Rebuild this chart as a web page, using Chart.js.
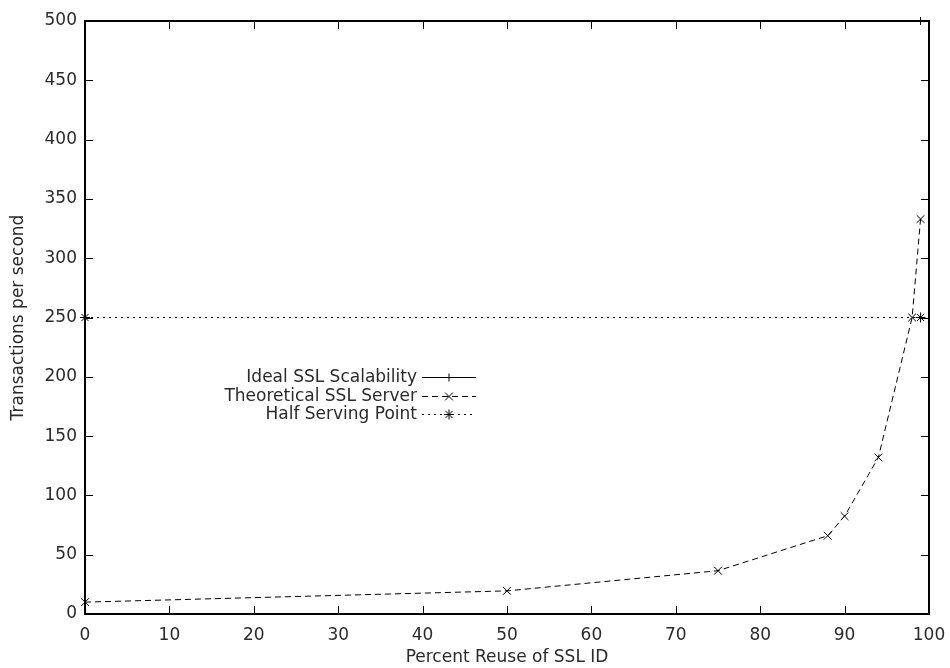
<!DOCTYPE html>
<html>
<head>
<meta charset="utf-8">
<script src="https://cdn.jsdelivr.net/npm/chart.js@4/dist/chart.umd.min.js"></script>
<style>
  html, body { margin: 0; padding: 0; background: #fff; }
  #wrap { width: 950px; height: 668px; }
</style>
</head>
<body>
<div id="wrap"><canvas id="chart"></canvas></div>
<script>
// values
const idealX = [99];
const idealY = [500];
const theoryX = [0, 50, 75, 88, 90, 94, 98, 99];
const theoryY = [10, 19.5, 36.5, 66, 82.5, 132, 250, 333];
const halfX = [0, 99];
const halfY = [250, 250];
const legendNames = ['Ideal SSL Scalability', 'Theoretical SSL Server', 'Half Serving Point'];

const FONT = "'DejaVu Sans', sans-serif";
const SIZE = 17;
const INK = '#2a2a2a';

function toPoints(xs, ys) {
  return xs.map((x, i) => ({ x: x, y: ys[i] }));
}

// gnuplot style frame: border plus inward ticks on all four sides
const framePlugin = {
  id: 'frame',
  afterDatasetsDraw(chart) {
    const { ctx, chartArea: a, scales } = chart;
    const len = 8;
    ctx.save();
    ctx.strokeStyle = '#000';
    ctx.lineWidth = 1;
    ctx.beginPath();
    scales.x.ticks.forEach(t => {
      const px = Math.round(scales.x.getPixelForValue(t.value)) + 0.5;
      ctx.moveTo(px, a.bottom); ctx.lineTo(px, a.bottom - len);
      ctx.moveTo(px, a.top); ctx.lineTo(px, a.top + len);
    });
    scales.y.ticks.forEach(t => {
      const py = Math.round(scales.y.getPixelForValue(t.value)) + 0.5;
      ctx.moveTo(a.left, py); ctx.lineTo(a.left + len, py);
      ctx.moveTo(a.right, py); ctx.lineTo(a.right - len, py);
    });
    ctx.stroke();
    ctx.lineWidth = 2;
    ctx.strokeRect(a.left, a.top, a.right - a.left, a.bottom - a.top);
    ctx.restore();
  }
};

// key drawn inside the plot, text right-aligned with a line sample after it
const keyPlugin = {
  id: 'key',
  afterDraw(chart) {
    const { ctx } = chart;
    const textRight = 417, lineL = 422, lineR = 476, top = 377, step = 18.5;
    ctx.save();
    ctx.font = SIZE + 'px ' + FONT;
    ctx.fillStyle = INK;
    ctx.textAlign = 'right';
    ctx.textBaseline = 'middle';
    chart.data.datasets.forEach((ds, i) => {
      const y = Math.round(top + i * step) + 0.5;
      ctx.fillText(legendNames[i], textRight, y);
      ctx.strokeStyle = '#000';
      ctx.lineWidth = 1;
      ctx.setLineDash(ds.borderDash || []);
      ctx.beginPath();
      ctx.moveTo(lineL, y); ctx.lineTo(lineR, y);
      ctx.stroke();
      ctx.setLineDash([]);
      Chart.helpers.drawPoint(ctx, {
        pointStyle: ds.pointStyle, radius: ds.pointRadius, borderWidth: 1
      }, (lineL + lineR) / 2, y);
    });
    ctx.restore();
  }
};

new Chart(document.getElementById('chart'), {
  type: 'scatter',
  data: {
    datasets: [
      {
        label: legendNames[0],
        data: toPoints(idealX, idealY),
        showLine: true,
        borderColor: '#000',
        borderWidth: 1,
        pointStyle: 'cross',
        pointRadius: 4,
        pointBorderColor: '#000',
        clip: false
      },
      {
        label: legendNames[1],
        data: toPoints(theoryX, theoryY),
        showLine: true,
        borderColor: '#000',
        borderWidth: 1,
        borderDash: [6, 4],
        pointStyle: 'crossRot',
        pointRadius: 5.5,
        pointBorderColor: '#000',
        clip: false
      },
      {
        label: legendNames[2],
        data: toPoints(halfX, halfY),
        showLine: true,
        borderColor: '#000',
        borderWidth: 1,
        borderDash: [2, 4],
        pointStyle: 'star',
        pointRadius: 5,
        pointBorderColor: '#000',
        clip: false
      }
    ]
  },
  options: {
    responsive: true,
    maintainAspectRatio: false,
    animation: false,
    layout: { padding: { left: 0, top: 21, right: 21, bottom: 0 } },
    plugins: {
      legend: { display: false },
      tooltip: { enabled: false }
    },
    scales: {
      x: {
        type: 'linear',
        min: 0,
        max: 100,
        afterFit(scale) { scale.height = 54; },
        grid: { display: false },
        border: { display: false },
        ticks: { stepSize: 10, padding: 3, color: INK, font: { family: FONT, size: SIZE } },
        title: {
          display: true,
          text: 'Percent Reuse of SSL ID',
          color: INK,
          font: { family: FONT, size: SIZE },
          padding: { top: 0, bottom: 0 }
        }
      },
      y: {
        type: 'linear',
        min: 0,
        max: 500,
        afterFit(scale) { scale.width = 85; },
        grid: { display: false },
        border: { display: false },
        ticks: { stepSize: 50, padding: 0, color: INK, font: { family: FONT, size: SIZE } },
        title: {
          display: true,
          text: 'Transactions per second',
          color: INK,
          font: { family: FONT, size: SIZE },
          padding: { top: 8, bottom: 0 }
        }
      }
    }
  },
  plugins: [framePlugin, keyPlugin]
});
</script>
</body>
</html>
